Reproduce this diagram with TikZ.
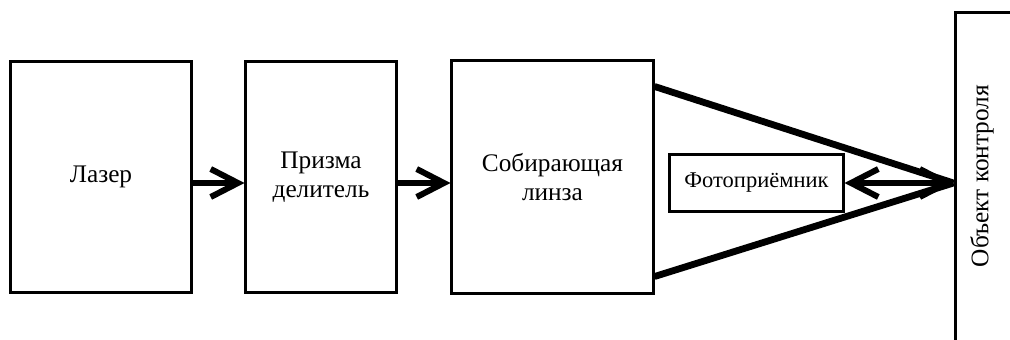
\documentclass[tikz,border=0pt]{standalone}
\usepackage{fontspec}
\setmainfont{Liberation Serif}
\usetikzlibrary{shapes}
\usetikzlibrary{calc}
\usetikzlibrary{arrows.meta}

\begin{document}
\begin{tikzpicture}[x=0.025cm, y=-0.025cm,
    box/.style={draw, rectangle, line width=0.075cm, align=center, font=\fontsize{18}{21}\selectfont},
    barb/.tip={Straight Barb[length=0.68cm, width=0.7cm, line width=0.15cm]},
    ray/.style={line width=0.17cm, -barb}]
  \useasboundingbox (0,0) rectangle (1010,340);
  \clip (0,0) rectangle (1010,340);

  \node[box, minimum width=4.5cm, minimum height=5.775cm] (laser) at (101,177) {Лазер};
  \node[box, minimum width=3.75cm, minimum height=5.775cm] (prism) at (321,177) {Призма \\ делитель};
  \node[box, minimum width=5.025cm, minimum height=5.8cm] (lens) at (552.5,177) {Собирающая \\ линза};
  \node[box, minimum width=4.325cm, minimum height=1.4cm, font=\fontsize{16}{18}\selectfont] (photo) at (756.5,183) {Фотоприёмник};
  \node[draw, rectangle, line width=0.075cm, minimum width=2.25cm, minimum height=8.5cm] (obj) at (1000,183) {};
  \node[rotate=90, font=\fontsize{18}{20}\selectfont] (objtext) at (982,176) {Объект контроля};

  \path[ray] (laser.east |- obj.west) edge (prism.west |- obj.west);
  \path[ray] (prism.east |- obj.west) edge (lens.west |- obj.west);
  \path[ray, barb-barb] (photo) edge (obj);

  \draw[line width=0.17cm] ($(lens.north east)+(0,27)$) -- (obj.west);
  \draw[line width=0.17cm] ($(lens.south east)+(0,-18)$) -- (obj.west);
\end{tikzpicture}
\end{document}
